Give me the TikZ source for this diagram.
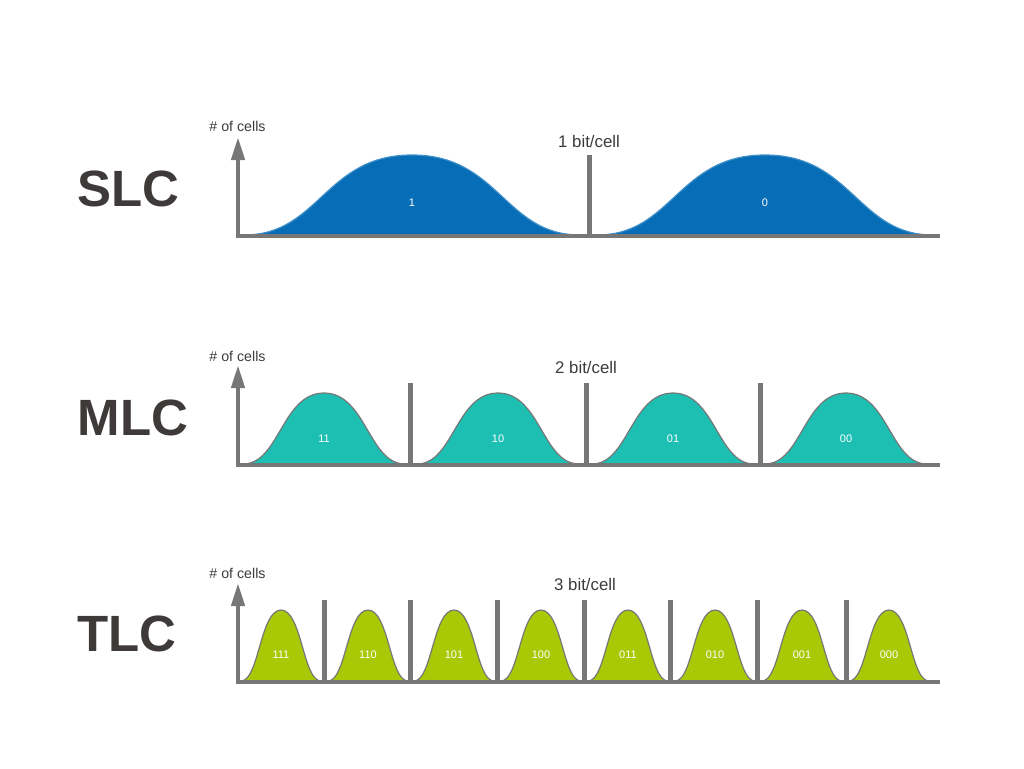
\documentclass[tikz,border=0pt]{standalone}
\usepackage{fontspec}
\setmainfont{Liberation Sans}
\usetikzlibrary{arrows.meta}
\definecolor{axisgray}{HTML}{777777}
\definecolor{textgray}{HTML}{3E3A39}
\definecolor{slcblue}{HTML}{066DB6}
\definecolor{slcedge}{HTML}{3F8FC8}
\definecolor{mlcteal}{HTML}{1DBFB3}
\definecolor{tlcgreen}{HTML}{A9C805}
\tikzset{
  axisline/.style={draw=axisgray, line width=4.4pt},
  divider/.style={draw=axisgray, line width=5pt},
  yaxis/.style={axisline, -{Triangle[length=23pt,width=13pt]}},
  kindlabel/.style={font=\fontsize{51}{51}\selectfont\bfseries, text=textgray, inner sep=0pt},
  unitlabel/.style={font=\fontsize{14.2}{14.2}\selectfont, text=textgray, inner sep=0pt},
  ratelabel/.style={font=\fontsize{16.8}{16.8}\selectfont, text=textgray, inner sep=0pt},
  statelabel/.style={font=\fontsize{11}{11}\selectfont, text=white, inner sep=0pt},
  bumpshape/.style={line width=1.2pt}
}
% center, half width, top, base, colour options
\newcommand{\bump}[5]{
  \path[bumpshape, #5] ({#1-#2},#4) .. controls ({#1-0.55*#2},#4) and ({#1-0.52*#2},#3) .. (#1,#3)
    .. controls ({#1+0.52*#2},#3) and ({#1+0.55*#2},#4) .. ({#1+#2},#4);
}
\begin{document}
\begin{tikzpicture}[x=1pt, y=-1pt]
  \useasboundingbox (0,0) rectangle (1024,768);

  % SLC
  \foreach \c/\s in {412/1, 765/0}{
    \bump{\c}{168}{155}{235}{fill=slcblue, draw=slcedge}
    \node[statelabel] (slc\s) at (\c,202.5) {\s};
  }
  \coordinate (slcO) at (238,236);
  \coordinate (slcT) at (238,137);
  \coordinate (slcR) at (940,236);
  \draw[yaxis] (slcO) -- (slcT);
  \draw[axisline] (236,236) -- (slcR);
  \coordinate (slcA) at (589,155);
  \coordinate (slcB) at (589,236);
  \draw[divider] (slcA) -- (slcB);
  \node[kindlabel] (slc) at (128.5,189) {SLC};
  \node[unitlabel] (slcunit) at (237.5,126) {\# of cells};
  \node[ratelabel] (slcrate) at (589,141) {1 bit/cell};

  % MLC
  \foreach \c/\s in {324/11, 498/10, 673/01, 846/00}{
    \bump{\c}{81}{393}{464}{fill=mlcteal, draw=axisgray}
    \node[statelabel] (mlc\s) at (\c,438.5) {\s};
  }
  \coordinate (mlcO) at (238,465);
  \coordinate (mlcT) at (238,365);
  \coordinate (mlcR) at (940,465);
  \draw[yaxis] (mlcO) -- (mlcT);
  \draw[axisline] (236,465) -- (mlcR);
  \foreach \x in {410,586,760}{
    \coordinate (mlcA\x) at (\x,383);
    \coordinate (mlcB\x) at (\x,465);
    \draw[divider] (mlcA\x) -- (mlcB\x);
  }
  \node[kindlabel] (mlc) at (133,418) {MLC};
  \node[unitlabel] (mlcunit) at (237.5,356) {\# of cells};
  \node[ratelabel] (mlcrate) at (586,367) {2 bit/cell};

  % TLC
  \foreach \c/\s in {281/111, 368/110, 454/101, 541/100, 628/011, 715/010, 802/001, 889/000}{
    \bump{\c}{40}{610}{681}{fill=tlcgreen, draw=axisgray}
    \node[statelabel] (tlc\s) at (\c,655) {\s};
  }
  \coordinate (tlcO) at (238,682);
  \coordinate (tlcT) at (238,583);
  \coordinate (tlcR) at (940,682);
  \draw[yaxis] (tlcO) -- (tlcT);
  \draw[axisline] (236,682) -- (tlcR);
  \foreach \x in {324,410,497,584,670,757,846}{
    \coordinate (tlcA\x) at (\x,600);
    \coordinate (tlcB\x) at (\x,682);
    \draw[divider] (tlcA\x) -- (tlcB\x);
  }
  \node[kindlabel] (tlc) at (127,634) {TLC};
  \node[unitlabel] (tlcunit) at (237.5,573) {\# of cells};
  \node[ratelabel] (tlcrate) at (585,584) {3 bit/cell};
\end{tikzpicture}
\end{document}
